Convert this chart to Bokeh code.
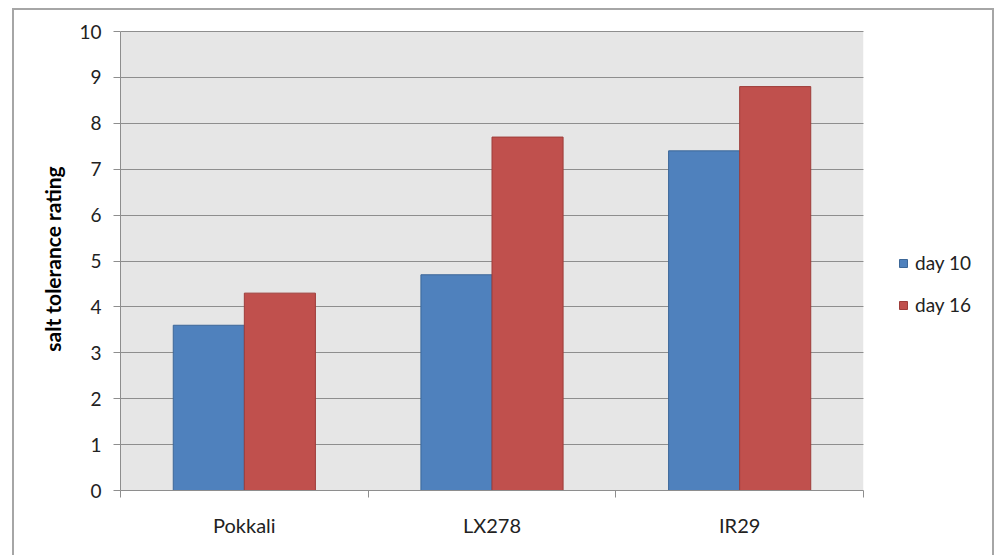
from bokeh.plotting import figure
from bokeh.models import (Range1d, FixedTicker, Legend, LegendItem, ColumnDataSource,
                          InlineStyleSheet, BoxAnnotation)
from bokeh.transform import dodge
from bokeh.embed import file_html
from bokeh.resources import INLINE

# ---- data ----
varieties = ["Pokkali", "LX278", "IR29"]
series_names = ["day 10", "day 16"]
day10 = [3.6, 4.7, 7.4]
day16 = [4.3, 7.7, 8.8]
y_ticks = [0, 1, 2, 3, 4, 5, 6, 7, 8, 9, 10]
y_label = "salt tolerance rating"

colors = ["#4F81BD", "#C0504D"]
edge_colors = ["#3C6798", "#9E3D3A"]
FONT = "Lato"

n = len(varieties)
y_max = y_ticks[-1]
centers = [i + 0.5 for i in range(n)]
source = ColumnDataSource(dict(x=centers, day10=day10, day16=day16, name=varieties))

border_css = InlineStyleSheet(css="""
:host::after {
  content: "";
  position: absolute;
  left: 12px; top: 8px; right: 1px; bottom: -20px;
  border: 2px solid #A6A6A6;
  pointer-events: none;
  z-index: 10;
}
""")

W, H = 995, 555
LEFT, TOP, BOTTOM = 120, 27, 65
PLOT_W = 743          # width of the grey plotting area
PLOT_H = 459          # height of the grey plotting area
FRAME_W = W - LEFT    # frame extends to the right edge so the legend fits inside
FRAME_H = H - TOP - BOTTOM

p = figure(width=W, height=H, output_backend="svg", toolbar_location=None,
           x_range=Range1d(0, n * FRAME_W / PLOT_W),
           y_range=Range1d(0, y_max * FRAME_H / PLOT_H),
           min_border_left=LEFT, min_border_right=0, min_border_top=TOP,
           min_border_bottom=BOTTOM, stylesheets=[border_css])

p.background_fill_color = "white"
p.border_fill_color = "white"
p.outline_line_color = None

# grey plotting area (0..n, 0..y_max)
p.add_layout(BoxAnnotation(left=0, right=n, bottom=0, top=y_max,
                           fill_color="#E6E6E6", fill_alpha=1.0,
                           line_color=None, level="image"))

bw = 0.287
r1 = p.vbar(x=dodge("x", -bw / 2, range=p.x_range), top="day10", width=bw, source=source,
            fill_color=colors[0], line_color=edge_colors[0], line_width=1)
r2 = p.vbar(x=dodge("x", bw / 2, range=p.x_range), top="day16", width=bw, source=source,
            fill_color=colors[1], line_color=edge_colors[1], line_width=1)

# grid
p.xgrid.visible = False
p.ygrid.ticker = FixedTicker(ticks=y_ticks)
p.ygrid.grid_line_color = "#8E8E8E"
p.ygrid.grid_line_width = 1

# white cover for the area right of the plotting area (legend area)
p.add_layout(BoxAnnotation(left=n, fill_color="white", fill_alpha=1.0,
                           line_color=None, level="underlay"))

# y axis
p.yaxis.bounds = (0, y_max)
p.yaxis.ticker = FixedTicker(ticks=y_ticks)
p.yaxis.axis_line_color = "#8E8E8E"
p.yaxis.major_tick_line_color = "#8E8E8E"
p.yaxis.major_tick_out = 7
p.yaxis.major_tick_in = 0
p.yaxis.minor_tick_line_color = None
p.yaxis.major_label_text_font = FONT
p.yaxis.major_label_text_font_size = "19px"
p.yaxis.major_label_text_color = "#222222"
p.yaxis.major_label_standoff = 12
p.yaxis.axis_label = y_label
p.yaxis.axis_label_text_font = FONT
p.yaxis.axis_label_text_font_size = "21px"
p.yaxis.axis_label_text_font_style = "bold"
p.yaxis.axis_label_text_color = "#000000"
p.yaxis.axis_label_standoff = 11

# x axis
p.xaxis.bounds = (0, n)
p.xaxis.ticker = FixedTicker(ticks=centers, minor_ticks=list(range(n + 1)))
p.xaxis.major_label_overrides = {c: v for c, v in zip(centers, varieties)}
p.xaxis.axis_line_color = "#8E8E8E"
p.xaxis.major_tick_line_color = None
p.xaxis.major_tick_out = 0
p.xaxis.major_tick_in = 0
p.xaxis.minor_tick_line_color = "#8E8E8E"
p.xaxis.minor_tick_out = 7
p.xaxis.minor_tick_in = 0
p.xaxis.major_label_text_font = FONT
p.xaxis.major_label_text_font_size = "20px"
p.xaxis.major_label_text_color = "#222222"
p.xaxis.major_label_standoff = 15

# legend
legend = Legend(items=[LegendItem(label=series_names[0], renderers=[r1]),
                       LegendItem(label=series_names[1], renderers=[r2])],
                location=(778, 174), orientation="vertical",
                label_text_font=FONT, label_text_font_size="19px",
                label_text_color="#222222",
                glyph_width=10, glyph_height=10, label_standoff=7,
                label_height=20, spacing=19, padding=0, margin=0,
                border_line_color=None, background_fill_alpha=0)
p.add_layout(legend, "center")

open("out.html", "w").write(file_html(p, INLINE))
